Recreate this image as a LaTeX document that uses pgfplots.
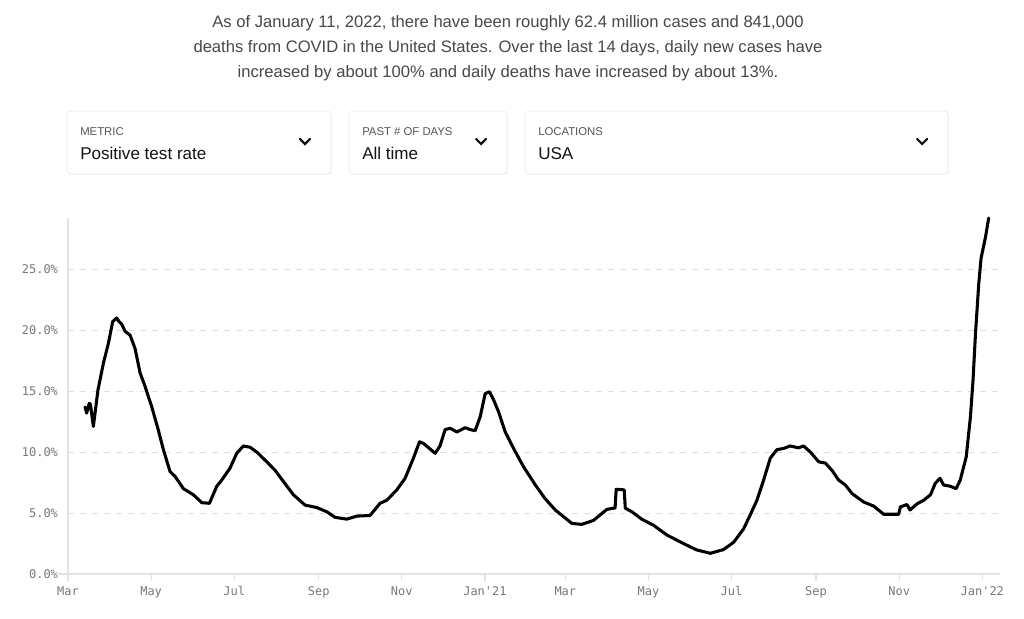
\documentclass[border=0pt]{standalone}
\usepackage{pgfplots}
\pgfplotsset{compat=1.18}
\usepackage{fontspec}
\setmainfont{Liberation Sans}
\setmonofont{DejaVu Sans Mono}
\definecolor{hdr}{RGB}{72,72,72}
\definecolor{lbl}{RGB}{85,85,85}
\definecolor{val}{RGB}{20,20,20}
\definecolor{tick}{RGB}{120,120,120}
\definecolor{axl}{RGB}{226,226,226}
\definecolor{grd}{RGB}{222,222,222}
\definecolor{boxb}{RGB}{232,232,232}
\begin{document}
\begin{tikzpicture}[x=0.75pt,y=0.75pt]
\useasboundingbox (0,0) rectangle (1024,618);
\fill[white] (0,0) rectangle (1024,618);
% header
\node[anchor=base,text=hdr,font=\fontsize{12.45}{14}\selectfont,inner sep=0] at (508,590) {As of January 11, 2022, there have been roughly 62.4 million cases and 841,000};
\node[anchor=base,text=hdr,font=\fontsize{12.45}{14}\selectfont,inner sep=0] at (508,565) {deaths from COVID in the United States. Over the last 14 days, daily new cases have};
\node[anchor=base,text=hdr,font=\fontsize{12.45}{14}\selectfont,inner sep=0] at (508,540) {increased by about 100\% and daily deaths have increased by about 13\%.};
% dropdown boxes
\foreach \xa/\xb/\lab/\val in {67/331/METRIC/Positive test rate, 349/507/PAST \# OF DAYS/All time, 525/948/LOCATIONS/USA}{
  \fill[black!4,rounded corners=3pt] (\xa,443) rectangle (\xb+1,506);
  \draw[boxb,fill=white,rounded corners=3pt] (\xa,444) rectangle (\xb,507);
  \node[anchor=base west,inner sep=0,text=lbl,font=\fontsize{8.5}{10}\selectfont] at (\xa+13,482) {\lab};
  \node[anchor=base west,inner sep=0,text=val,font=\fontsize{12.8}{14}\selectfont] at (\xa+13,458) {\val};
  \draw[val,line width=1.6pt,line cap=round,line join=miter] (\xb-31,479) -- (\xb-26,474) -- (\xb-21,479);
}
% small extension of the x axis line to the left
\draw[axl,line width=0.9pt] (58,44) -- (68,44);
\begin{axis}[
  at={(51pt,33pt)}, anchor=south west,
  scale only axis, width=699pt, height=267pt,
  xmin=0, xmax=684, ymin=0, ymax=29.2,
  axis x line=bottom, axis y line=left,
  axis line style={-,draw=axl,line width=0.9pt},
  xtick={0,61,122,184,245,306,365,426,487,549,610,671},
  xticklabels={Mar,May,Jul,Sep,Nov,Jan'21,Mar,May,Jul,Sep,Nov,Jan'22},
  ytick={0,5,10,15,20,25},
  yticklabels={0.0\%,5.0\%,10.0\%,15.0\%,20.0\%,25.0\%},
  tick align=outside,
  major tick length=5pt,
  x tick style={draw=axl,line width=0.9pt},
  y tick style={draw=none},
  ticklabel style={font=\ttfamily\fontsize{9}{10}\selectfont,text=tick},
  yticklabel style={xshift=1pt},
  xticklabel style={yshift=-1pt},
  ymajorgrids,
  major grid style={draw=grd,line width=0.8pt,dash pattern=on 4.5pt off 4.5pt},
  clip=false,
]
\addplot[black,line width=2.3pt,line join=round,line cap=round] coordinates {
(12.5,13.7)(13.7,13.2)(15.6,14.0)(16.5,13.9)(18.6,12.1)(22,15.1)(26,17.3)(29.6,18.9)
(32.8,20.7)(35.7,21.0)(37.5,20.7)(39.4,20.5)(41.9,19.9)(45.5,19.6)(49.2,18.5)(52.9,16.5)
(56.5,15.4)(61.5,13.7)(66.3,11.8)(70,10.2)(74.9,8.4)(78.6,8.0)(84.7,7.0)(92,6.5)
(98.2,5.85)(103.8,5.8)(109.2,7.2)(112.8,7.7)(119,8.7)(123.8,9.9)(128.7,10.5)(133.6,10.4)
(138.5,10.0)(145.9,9.2)(152,8.5)(158,7.6)(165.4,6.5)(174,5.65)(182.6,5.45)(190,5.1)
(196,4.65)(204.6,4.5)(212,4.75)(221.7,4.8)(229,5.8)(234,6.05)(241.3,6.9)(247.4,7.85)
(253.5,9.5)(258,10.85)(261,10.7)(269.5,9.9)(273,10.5)(276.8,11.85)(280.5,11.95)(285.4,11.65)
(291.5,12.0)(295,11.85)(298.8,11.75)(302.5,12.9)(306.2,14.8)(309.3,14.95)(312.3,14.3)(316,13.3)
(320.9,11.65)(327,10.3)(334.3,8.8)(343,7.3)(350,6.2)(357.6,5.25)(363.7,4.7)(369.8,4.15)
(377,4.07)(385.7,4.4)(395.5,5.3)(400.4,5.4)(401.5,5.4)(402.3,6.95)(408.2,6.9)(409,5.4)
(413.9,5.1)(421,4.5)(429.7,4.0)(439.5,3.2)(451.7,2.5)(461.5,1.97)(471.4,1.7)(481,2.0)
(488.5,2.6)(495.8,3.7)(500.7,4.85)(505.6,6.05)(510.5,7.7)(515.4,9.5)(520.3,10.2)(525.2,10.3)
(530,10.5)(536,10.35)(539.9,10.5)(544.8,10.0)(551,9.2)(555.8,9.1)(560.7,8.5)(565.6,7.7)
(570.5,7.3)(575.4,6.6)(584,5.9)(591.3,5.57)(598.6,4.9)(609.6,4.9)(610.9,5.5)(615.7,5.7)
(618,5.25)(623,5.75)(628,6.05)(633,6.5)(636.5,7.45)(640,7.85)(642.6,7.3)(647.5,7.2)
(651.8,7.0)(654.8,7.7)(659.2,9.6)(662.3,12.9)(664.2,15.9)(666,19.7)(668.4,23.8)(670.1,25.9)
(673.3,27.6)(675.7,29.2)
};
\end{axis}
\end{tikzpicture}
\end{document}
